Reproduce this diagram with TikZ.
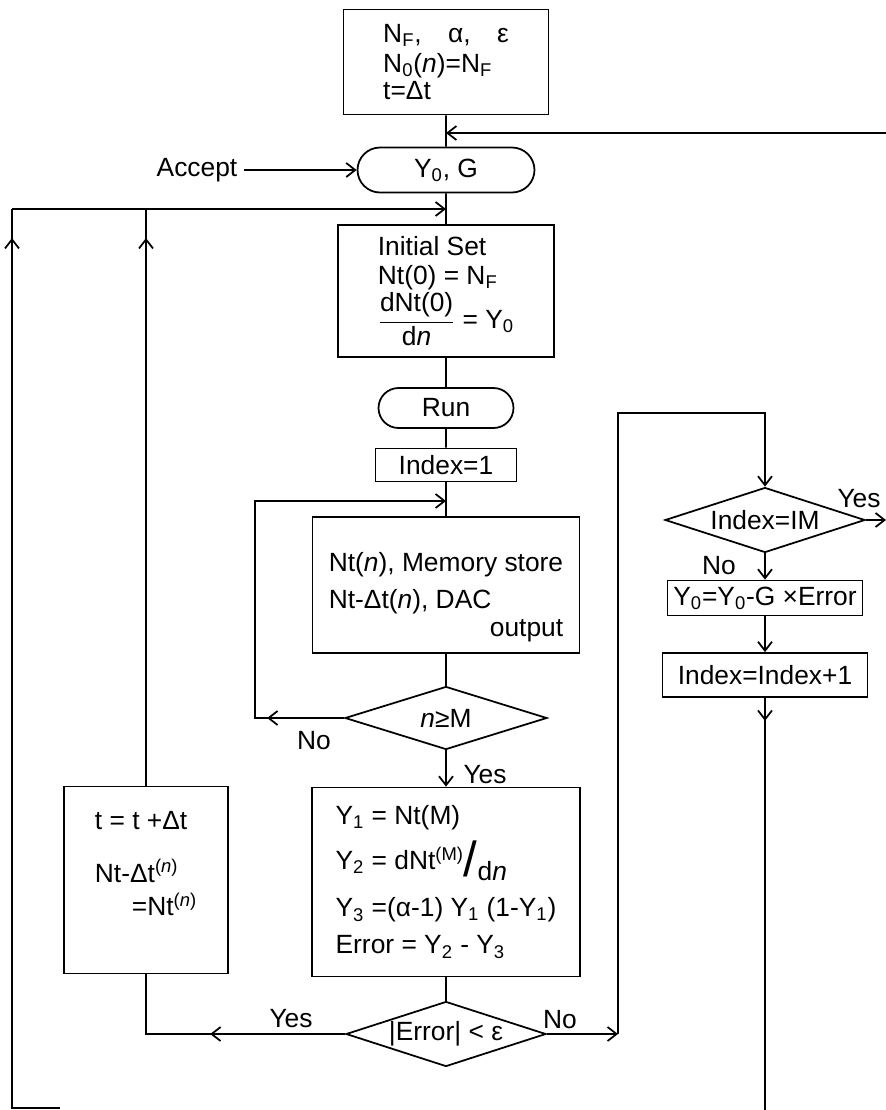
\documentclass[tikz,border=0pt]{standalone}
\usepackage{amsmath}
\usepackage{fontspec}
\setmainfont{Liberation Sans}
\usetikzlibrary{shapes.geometric,shapes.misc,arrows.meta,decorations.markings}
\newcommand{\sbs}[1]{\textsubscript{#1}}
\newcommand{\nv}{\textit{n}}
\begin{document}
\begin{tikzpicture}
	[x=0.02cm,y=-0.02cm,line width=1pt,
	 font=\fontsize{15}{17}\selectfont,
	 >={Straight Barb[length=1.8mm,width=2.8mm]},
	 box/.style={draw,rectangle,inner sep=0pt},
	 term/.style={draw,rounded rectangle,inner sep=0pt},
	 test/.style={draw,diamond,shape aspect=3,inner sep=0pt},
	 tipat/.style={postaction={decorate},
	   decoration={markings,mark=at position #1 with {\arrow{>}}}}]
\useasboundingbox (0,0) rectangle (886,1110);
% main column
\node[box,minimum width=4.1cm,minimum height=2.1cm,align=left] (par) at (446,62)
  {N\sbs{F},\quad α,\quad ε\\[0pt] N\sbs{0}(\nv)=N\sbs{F}\\[-2pt] t=Δt};
\node[term,minimum width=3.54cm,minimum height=0.9cm] (yg) at (446,170) {Y\sbs{0}, G};
\node (acc) at (197,170) {Accept};
\node[box,minimum width=4.32cm,minimum height=2.64cm,align=left] (iset) at (446,291)
  {Initial Set\\ Nt(0) = N\sbs{F}\\ $\dfrac{\text{dNt(0)}}{\text{d\nv}}$ = Y\sbs{0}};
\node[term,minimum width=2.7cm,minimum height=0.8cm] (run) at (446,408) {Run};
\node[box,minimum width=2.82cm,minimum height=0.66cm] (idx1) at (446,465) {Index=1};
\node[box,minimum width=5.34cm,minimum height=2.72cm,align=left] (mem) at (446,585)
  {\mbox{}\\[8pt] Nt(\nv), Memory store\\[4pt] Nt-Δt(\nv), DAC\\[-1pt] \hfill output};
\node[test,minimum width=4.04cm,minimum height=1.26cm] (cmpM) at (446,718) {\nv≥M};
\node[box,minimum width=5.36cm,minimum height=3.78cm,align=left] (calc) at (446,882)
  {Y\sbs{1} = Nt(M)\\[5pt]
   Y\sbs{2} = dNt\textsuperscript{(M)}\raisebox{-4pt}{\fontsize{28}{28}\selectfont/}\raisebox{-6pt}{d\nv}\\[9pt]
   Y\sbs{3} =(α-1) Y\sbs{1} (1-Y\sbs{1})\\[4pt]
   Error = Y\sbs{2} - Y\sbs{3}};
\node[test,minimum width=4cm,minimum height=1.3cm] (err) at (446,1034) {|Error| < ε};
\node[box,minimum width=3.28cm,minimum height=3.74cm,align=left] (tupd) at (146,880)
  {t = t +Δt\\[13pt] Nt-Δt\textsuperscript{(\nv)}\\[2pt] \hspace*{1.4em}=Nt\textsuperscript{(\nv)}\\[2pt]\mbox{}};
% right column
\node[test,minimum width=4cm,minimum height=1.3cm] (cmpIM) at (765,520) {Index=IM};
\node[box,minimum width=3.9cm,minimum height=0.7cm] (y0upd) at (765,598) {Y\sbs{0}=Y\sbs{0}-G ×Error};
\node[box,minimum width=4.1cm,minimum height=0.88cm] (idxinc) at (765,675) {Index=Index+1};
% labels
\node (noM) at (314,741) {No};
\node (yesM) at (485,775) {Yes};
\node (yesE) at (291,1019) {Yes};
\node (noE) at (560,1020) {No};
\node (yesIM) at (859,499) {Yes};
\node (noIM) at (719,566) {No};
% free ends
\coordinate (topR) at (886,133);
\coordinate (fbL) at (12,209);
\coordinate (fbS) at (60,1108);
\coordinate (lpTop) at (255,501);
\coordinate (noR) at (618,1034);
\coordinate (noTop) at (618,413);
\coordinate (imR) at (886,520);
\coordinate (idxB) at (765,1110);
% connectors
\draw (par) -- (yg);
\draw[->] (topR) -- (par.south |- topR);
\draw[->] (acc) -- (yg);
\draw (yg) -- (iset);
\draw[tipat=-0.58cm] (fbS) -| (fbL);
\draw[->] (fbL) -- (fbL -| iset.north);
\draw[tipat=-0.58cm] (tupd) -- (tupd |- fbL);
\draw (iset) -- (run);
\draw (run) -- (idx1);
\draw (idx1) -- (mem);
\draw (mem) -- (cmpM);
\draw[tipat=1.54cm,->] (cmpM.west) -| (lpTop) -- (lpTop -| mem.north);
\draw[->] (cmpM) -- (calc);
\draw (calc) -- (err);
\draw[tipat=2.7cm] (err.west) -| (tupd.south);
\draw[->] (err.east) -- (noR);
\draw[->] (noR) -- (noTop) -| (cmpIM.north);
\draw[->] (cmpIM.east) -- (imR);
\draw[->] (cmpIM) -- (y0upd);
\draw[->] (y0upd) -- (idxinc);
\draw[tipat=0.46cm] (idxinc) -- (idxB);
\end{tikzpicture}
\end{document}
